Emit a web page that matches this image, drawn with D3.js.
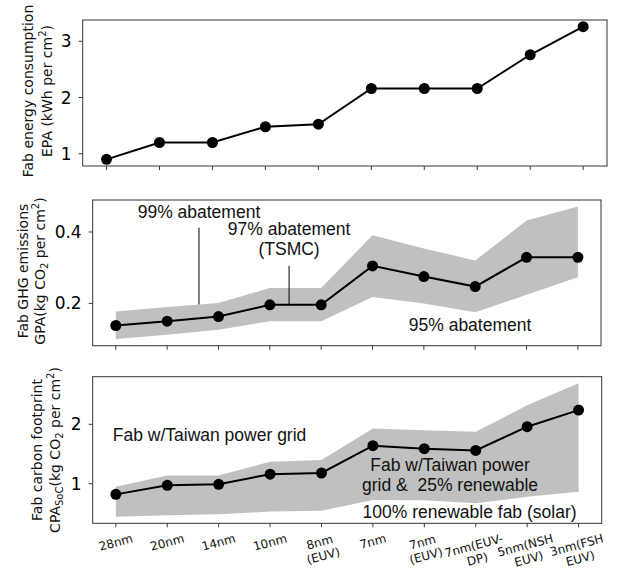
<!DOCTYPE html>
<html>
<head>
<meta charset="utf-8">
<script src="https://cdn.jsdelivr.net/npm/d3@7"></script>
<style>
  body { margin: 0; background: #fff; }
  svg { display: block; }
</style>
</head>
<body>
<script>
// process nodes (x axis, shared by all three panels)
var nodes = ['28nm', '20nm', '14nm', '10nm', '8nm\n(EUV)', '7nm', '7nm\n(EUV)', '7nm(EUV-\nDP)', '5nm(NSH\nEUV)', '3nm(FSH\nEUV)'];

// fab energy per area, kWh per cm2
var epa = [0.9, 1.2, 1.2, 1.48, 1.525, 2.16, 2.16, 2.16, 2.76, 3.26];

// fab GHG emissions per area, kg CO2 per cm2 (97% / 99% / 95% abatement)
var gpa = [0.138, 0.15, 0.163, 0.196, 0.196, 0.305, 0.275, 0.247, 0.329, 0.329];
var gpaLow = [0.1, 0.112, 0.126, 0.15, 0.15, 0.218, 0.2, 0.175, 0.224, 0.273];
var gpaHigh = [0.177, 0.19, 0.201, 0.243, 0.243, 0.391, 0.354, 0.32, 0.432, 0.471];

// fab carbon footprint per area, kg CO2 per cm2 (25% renewable / solar / Taiwan grid)
var cpa = [0.82, 0.973, 0.99, 1.16, 1.18, 1.64, 1.59, 1.56, 1.96, 2.24];
var cpaLow = [0.445, 0.47, 0.485, 0.53, 0.545, 0.725, 0.72, 0.67, 0.78, 0.865];
var cpaHigh = [0.95, 1.14, 1.14, 1.37, 1.40, 1.93, 1.90, 1.875, 2.32, 2.69];

var yTicks1 = [1, 2, 3];
var yTicks2 = [0.2, 0.4];
var yTicks3 = [1, 2];

var W = 618, H = 571;
var tickFont = 'DejaVu Sans';
var noteFont = "'Liberation Sans', Arial, sans-serif";

var svg = d3.select('body').append('svg').attr('width', W).attr('height', H)

function padded(lo, hi) {
  var m = (hi - lo) * 0.05
  return [lo - m, hi + m]
}

function panel(box, dom, ticks) {
  var x = d3.scaleLinear().domain([-0.45, nodes.length - 1 + 0.45]).range([box.l, box.r])
  var y = d3.scaleLinear().domain(dom).range([box.b, box.t])
  var g = svg.append('g')

  // ticks
  g.selectAll('line.xt').data(nodes).enter().append('line')
    .attr('class', 'xt')
    .attr('x1', (d, i) => x(i)).attr('x2', (d, i) => x(i))
    .attr('y1', box.b).attr('y2', box.b + 4)
    .attr('stroke', '#222').attr('stroke-width', 0.9)
  g.selectAll('line.yt').data(ticks).enter().append('line')
    .attr('class', 'yt')
    .attr('x1', box.l - 4).attr('x2', box.l)
    .attr('y1', d => y(d)).attr('y2', d => y(d))
    .attr('stroke', '#222').attr('stroke-width', 0.9)
  g.selectAll('text.yl').data(ticks).enter().append('text')
    .attr('class', 'yl')
    .attr('x', box.l - 11).attr('y', d => y(d))
    .attr('dy', '0.36em')
    .attr('text-anchor', 'end')
    .attr('font-family', tickFont).attr('font-size', 17)
    .text(d => d)
  return {g: g, x: x, y: y, box: box}
}

function band(p, lo, hi) {
  var area = d3.area()
    .x((d, i) => p.x(i))
    .y0((d, i) => p.y(lo[i]))
    .y1((d, i) => p.y(hi[i]))
  p.g.append('path').attr('d', area(nodes)).attr('fill', '#c0c0c0')
}

function series(p, vals) {
  var line = d3.line().x((d, i) => p.x(i)).y(d => p.y(d))
  p.g.append('path').attr('d', line(vals))
    .attr('fill', 'none').attr('stroke', '#000').attr('stroke-width', 2)
  p.g.selectAll('circle').data(vals).enter().append('circle')
    .attr('cx', (d, i) => p.x(i)).attr('cy', d => p.y(d))
    .attr('r', 5.5).attr('fill', '#000')
}

function frame(p) {
  var b = p.box
  p.g.append('rect').attr('x', b.l).attr('y', b.t)
    .attr('width', b.r - b.l).attr('height', b.b - b.t)
    .attr('fill', 'none').attr('stroke', '#333').attr('stroke-width', 1)
}

function note(p, xi, yv, lines, anchor) {
  var t = p.g.append('text')
    .attr('font-family', noteFont).attr('font-size', 17.5)
    .attr('text-anchor', anchor || 'middle')
    .attr('fill', '#111')
    .style('white-space', 'pre')
  lines.forEach((s, k) => {
    t.append('tspan').attr('x', p.x(xi)).attr('y', p.y(yv)).attr('dy', k * 20).text(s)
  })
}

function ylabel(cx, cy, gap, line1, parts) {
  var g = svg.append('g').attr('transform', `translate(${cx}, ${cy}) rotate(-90)`)
    .attr('font-family', tickFont).attr('font-size', 14).attr('fill', '#111')
  g.append('text').attr('text-anchor', 'middle').attr('y', 0).attr('dy', '0.35em').text(line1)
  var t = g.append('text').attr('text-anchor', 'middle').attr('y', gap).attr('dy', '0.35em')
  parts.forEach(pt => {
    var sp = t.append('tspan').text(pt[0])
    if (pt[1] === 'sup') sp.attr('font-size', 10).attr('dy', -6)
    if (pt[1] === 'sub') sp.attr('font-size', 10).attr('dy', 3)
    if (pt[1] === 'back') sp.attr('dy', 6)
    if (pt[1] === 'up') sp.attr('dy', -3)
  })
}

// panel 1: energy
var p1 = panel({l: 82.7, r: 607, t: 20, b: 166}, padded(d3.min(epa), d3.max(epa)), yTicks1)
series(p1, epa)
frame(p1)

// panel 2: GHG
var p2 = panel({l: 92.7, r: 601, t: 200, b: 345.7}, padded(d3.min(gpaLow), d3.max(gpaHigh)), yTicks2)
band(p2, gpaLow, gpaHigh)
p2.g.append('line')
  .attr('x1', p2.x(1.62)).attr('x2', p2.x(1.62))
  .attr('y1', p2.y(0.412)).attr('y2', p2.y(0.197))
  .attr('stroke', '#000').attr('stroke-width', 1)
p2.g.append('line')
  .attr('x1', p2.x(3.375)).attr('x2', p2.x(3.375))
  .attr('y1', p2.y(0.305)).attr('y2', p2.y(0.196))
  .attr('stroke', '#000').attr('stroke-width', 1)
series(p2, gpa)
note(p2, 1.62, 0.44, ['99% abatement'])
note(p2, 3.375, 0.392, ['97% abatement', '(TSMC)'])
note(p2, 6.9, 0.124, ['95% abatement'])
frame(p2)

// panel 3: carbon footprint
var p3 = panel({l: 92.7, r: 601.7, t: 376.7, b: 523.3}, padded(d3.min(cpaLow), d3.max(cpaHigh)), yTicks3)
band(p3, cpaLow, cpaHigh)
series(p3, cpa)
note(p3, -0.06, 1.724, ['Fab w/Taiwan power grid'], 'start')
note(p3, 6.5, 1.214, ['Fab w/Taiwan power', 'grid &  25% renewable'])
note(p3, 6.88, 0.422, ['100% renewable fab (solar)'])
frame(p3)

// rotated x tick labels on the bottom panel
p3.g.selectAll('text.xl').data(nodes).enter().append('text')
  .attr('class', 'xl')
  .attr('font-family', tickFont).attr('font-size', 12).attr('fill', '#111')
  .attr('text-anchor', 'middle')
  .each(function (d, i) {
    var t = d3.select(this)
    d.split('\n').forEach((s, k) => {
      t.append('tspan').attr('x', 0).attr('y', k * 14).text(s)
    })
    var bb = this.getBBox()
    var a = 15 * Math.PI / 180
    var hh = bb.height * Math.cos(a) + bb.width * Math.sin(a)
    var cx = bb.x + bb.width / 2, cy = bb.y + bb.height / 2
    t.attr('transform', `translate(${p3.x(i)}, ${p3.box.b + 8 + hh / 2}) rotate(-15) translate(${-cx}, ${-cy})`)
  })

ylabel(28.5, 91, 18.5, 'Fab energy consumption',
  [['EPA (kWh per cm'], ['2', 'sup'], [')', 'back']])
ylabel(23.5, 271, 16.5, 'Fab GHG emissions',
  [['GPA(kg CO'], ['2', 'sub'], [' per cm', 'up'], ['2', 'sup'], [')', 'back']])
ylabel(37, 450, 18.5, 'Fab carbon footprint',
  [['CPA'], ['SoC', 'sub'], ['(kg CO', 'up'], ['2', 'sub'], [' per cm', 'up'], ['2', 'sup'], [')', 'back']])
</script>
</body>
</html>
